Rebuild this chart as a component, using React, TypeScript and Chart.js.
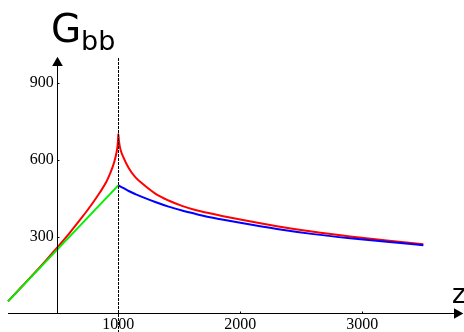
import React, { useEffect, useRef } from "react";
import { Chart, registerables } from "chart.js";

Chart.register(...registerables);

// ---- data ----
const xTicks = [1000, 2000, 3000];
const yTicks = [300, 600, 900];

const zGreen = [96, 1000];
const gGreen = [48, 500];

const zBlue = [1000, 1005, 1016, 1044, 1085, 1139, 1194, 1303, 1412, 1522, 1631, 1740, 1850, 2000, 2300, 2600, 2900, 3200, 3500];
const gBlue = [500, 499, 496, 489, 478, 466, 455, 435, 417, 402, 389, 377, 367, 354, 330, 310, 294, 280, 267];

const zRed = [96, 200, 300, 400, 500, 600, 700, 750, 800, 850, 900, 930, 950, 970, 985, 993, 998, 1000,
  1005, 1016, 1044, 1085, 1139, 1194, 1303, 1412, 1522, 1631, 1740, 1850, 2000, 2300, 2600, 2900, 3200, 3500];
const gRed = [48, 101, 152, 204, 258, 314, 374, 405, 438, 473, 512, 543, 567, 597, 627, 651, 677, 700,
  674, 643, 607, 568, 532, 508, 468, 441, 420, 404, 392, 381, 367, 341, 319, 301, 285, 271];

const zMarker = 1000; // dashed vertical line
const xAxisFrom = 96; // horizontal axis starts here (left of the vertical axis)
const yAxisAt = 500; // vertical axis crosses here
const xAxisTo = 3825;

const toPts = (xs: number[], ys: number[]) => xs.map((x, i) => ({ x, y: ys[i] }));

const axesPlugin = {
  id: "mmaAxes",
  afterDatasetsDraw(chart: any) {
    const { ctx, chartArea, scales } = chart;
    const xs = scales.x;
    const ys = scales.y;
    const y0 = Math.round(ys.getPixelForValue(0)) - 0.5;
    const xAxisX = Math.round(xs.getPixelForValue(yAxisAt)) + 0.5;
    const xStart = xs.getPixelForValue(xAxisFrom);
    const xm = Math.round(xs.getPixelForValue(zMarker)) + 0.5;
    ctx.save();
    ctx.strokeStyle = "#000";
    ctx.fillStyle = "#000";
    ctx.lineWidth = 1;
    // dashed marker
    ctx.setLineDash([3, 1]);
    ctx.beginPath();
    ctx.moveTo(xm, chartArea.top + 1);
    ctx.lineTo(xm, chart.height);
    ctx.stroke();
    ctx.setLineDash([]);
    // x axis
    ctx.beginPath();
    ctx.moveTo(xStart, y0);
    ctx.lineTo(chartArea.right - 8, y0);
    ctx.stroke();
    ctx.beginPath();
    ctx.moveTo(chartArea.right + 0.3, y0);
    ctx.lineTo(chartArea.right - 9, y0 - 5.3);
    ctx.lineTo(chartArea.right - 9, y0 + 5.3);
    ctx.closePath();
    ctx.fill();
    // y axis
    ctx.beginPath();
    ctx.moveTo(xAxisX, chartArea.top + 8);
    ctx.lineTo(xAxisX, y0);
    ctx.stroke();
    ctx.beginPath();
    ctx.moveTo(xAxisX, chartArea.top - 0.3);
    ctx.lineTo(xAxisX - 5.3, chartArea.top + 9);
    ctx.lineTo(xAxisX + 5.3, chartArea.top + 9);
    ctx.closePath();
    ctx.fill();
    // tick marks
    ctx.beginPath();
    xTicks.forEach((v) => {
      const px = Math.round(xs.getPixelForValue(v)) + 0.5;
      ctx.moveTo(px, y0);
      ctx.lineTo(px, y0 - 2);
    });
    yTicks.forEach((v) => {
      const py = Math.round(ys.getPixelForValue(v)) + 0.5;
      ctx.moveTo(xAxisX, py);
      ctx.lineTo(xAxisX + 2, py);
    });
    ctx.stroke();
    ctx.restore();
  },
};

export default function App() {
  const ref = useRef<HTMLCanvasElement | null>(null);
  useEffect(() => {
    if (!ref.current) return;
    const tickFont = { family: "'Liberation Serif', serif", size: 16 };
    const common = { borderWidth: 2, showLine: true, pointRadius: 0, fill: false, clip: false };
    const chart = new Chart(ref.current, {
      type: "scatter",
      data: {
        datasets: [
          { ...common, data: toPts(zGreen, gGreen), borderColor: "rgb(0,240,0)" },
          { ...common, data: toPts(zBlue, gBlue), borderColor: "#0000ff", cubicInterpolationMode: "monotone" },
          { ...common, data: toPts(zRed, gRed), borderColor: "#ff0000", cubicInterpolationMode: "monotone" },
        ],
      },
      options: {
        animation: false,
        responsive: false,
        events: [],
        layout: { padding: { left: 0, right: 1, top: 57, bottom: 0 } },
        plugins: { legend: { display: false }, tooltip: { enabled: false } },
        scales: {
          x: {
            type: "linear",
            bounds: "data",
            position: "bottom",
            afterDataLimits: (s: any) => { s.min = yAxisAt; s.max = xAxisTo; },
            afterFit: (s: any) => { s.height = 18.3; },
            afterBuildTicks: (s: any) => { s.ticks = xTicks.map((v) => ({ value: v })); },
            grid: { display: false, drawTicks: false },
            border: { display: false },
            ticks: { font: tickFont, color: "#000", padding: 1, maxRotation: 0, autoSkip: false, callback: (v: any) => String(v) },
          },
          y: {
            type: "linear",
            min: 0,
            max: 1000,
            position: "left",
            afterFit: (s: any) => { s.width = 57.3; },
            afterBuildTicks: (s: any) => { s.ticks = yTicks.map((v) => ({ value: v })); },
            grid: { display: false, drawTicks: false },
            border: { display: false },
            ticks: { font: tickFont, color: "#000", padding: 3.5, autoSkip: false, callback: (v: any) => String(v) },
          },
        },
      } as any,
      plugins: [axesPlugin],
    });
    return () => chart.destroy();
  }, []);

  const sans = "'DejaVu Sans', sans-serif";
  return (
    <div style={{ position: "absolute", left: 0, top: 0, width: 464, height: 332, background: "#fff", overflow: "hidden" }}>
      <canvas ref={ref} width={464} height={332} style={{ position: "absolute", left: 0, top: 0, width: 464, height: 332 }} />
      <span style={{ position: "absolute", left: 51, top: 9, fontFamily: sans, fontSize: 39, lineHeight: 1, whiteSpace: "nowrap", color: "#000" }}>G</span>
      <span style={{ position: "absolute", left: 81, top: 27, fontFamily: sans, fontSize: 27, lineHeight: 1, whiteSpace: "nowrap", color: "#000" }}>bb</span>
      <span style={{ position: "absolute", left: 452, top: 281, fontFamily: sans, fontSize: 26, lineHeight: 1, whiteSpace: "nowrap", color: "#000" }}>z</span>
    </div>
  );
}
